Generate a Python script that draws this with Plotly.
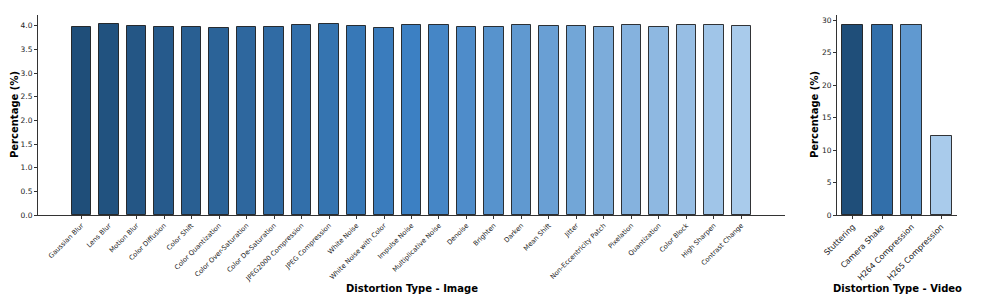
import plotly.graph_objects as go

image_types = ["Gaussian Blur", "Lens Blur", "Motion Blur", "Color Diffusion", "Color Shift",
               "Color Quantization", "Color Over-Saturation", "Color De-Saturation",
               "JPEG2000 Compression", "JPEG Compression", "White Noise", "White Noise with Color",
               "Impulse Noise", "Multiplicative Noise", "Denoise", "Brighten", "Darken",
               "Mean Shift", "Jitter", "Non-Eccentricity Patch", "Pixelation", "Quantization",
               "Color Block", "High Sharpen", "Contrast Change"]
image_values = [3.98, 4.04, 4.00, 3.98, 3.97, 3.95, 3.97, 3.98, 4.02, 4.03, 4.00, 3.95,
                4.01, 4.02, 3.97, 3.98, 4.02, 4.00, 4.00, 3.98, 4.01, 3.97, 4.02, 4.01, 4.00]

video_types = ["Stuttering", "Camera Shake", "H264 Compression", "H265 Compression"]
video_values = [29.3, 29.3, 29.3, 12.1]

stops = [(0.0, (31, 78, 121)), (0.5, (60, 128, 195)), (1.0, (169, 203, 235))]


def grad(n):
    out = []
    for i in range(n):
        t = i / (n - 1)
        for (t0, c0), (t1, c1) in zip(stops[:-1], stops[1:]):
            if t0 <= t <= t1:
                f = (t - t0) / (t1 - t0)
                c = [round(a + (b - a) * f) for a, b in zip(c0, c1)]
                out.append(f"rgb({c[0]},{c[1]},{c[2]})")
                break
    return out


W, H = 997, 299
font = "DejaVu Sans"

fig = go.Figure()
fig.add_trace(go.Bar(x=image_types, y=image_values, width=0.7,
                     marker=dict(color=grad(len(image_types)),
                                 line=dict(color="rgba(20,20,20,0.85)", width=1)),
                     xaxis="x", yaxis="y", showlegend=False))
fig.add_trace(go.Bar(x=video_types, y=video_values, width=0.7,
                     marker=dict(color=grad(len(video_types)),
                                 line=dict(color="rgba(20,20,20,0.85)", width=1)),
                     xaxis="x2", yaxis="y2", showlegend=False))

ydom = [(H - 215) / H, (H - 15) / H]
axis_common = dict(showline=True, linecolor="#333", linewidth=1, ticks="outside",
                   ticklen=3, tickcolor="#333", showgrid=False, zeroline=False, automargin=False)

title_font = dict(size=10, family=font, color="black")

fig.update_layout(
    width=W, height=H,
    margin=dict(l=0, r=0, t=0, b=0),
    paper_bgcolor="white", plot_bgcolor="white",
    font=dict(family=font, color="#222"),
    bargap=0,
    xaxis=dict(domain=[38 / W, 785 / W], anchor="y", range=[-1.585, 25.585],
               tickangle=-45, tickfont=dict(size=6.7, family=font), **axis_common),
    yaxis=dict(domain=ydom, anchor="x", range=[0, 4.23], tickvals=[0, 0.5, 1, 1.5, 2, 2.5, 3, 3.5, 4],
               ticktext=["0.0", "0.5", "1.0", "1.5", "2.0", "2.5", "3.0", "3.5", "4.0"],
               tickfont=dict(size=7.5, family=font), **axis_common),
    xaxis2=dict(domain=[837 / W, 957 / W], anchor="y2", range=[-0.535, 3.535],
                tickangle=-45, tickfont=dict(size=8, family=font), **axis_common),
    yaxis2=dict(domain=ydom, anchor="x2", range=[0, 30.77], tickvals=[0, 5, 10, 15, 20, 25, 30],
                tickfont=dict(size=7.5, family=font), **axis_common),
    annotations=[
        dict(text="<b>Distortion Type - Image</b>", x=412 / W, y=(H - 288) / H, xref="paper", yref="paper",
             xanchor="center", yanchor="middle", showarrow=False, font=title_font),
        dict(text="<b>Distortion Type - Video</b>", x=897 / W, y=(H - 288) / H, xref="paper", yref="paper",
             xanchor="center", yanchor="middle", showarrow=False, font=title_font),
        dict(text="<b>Percentage (%)</b>", x=15 / W, y=(H - 115) / H, xref="paper", yref="paper",
             xanchor="center", yanchor="middle", showarrow=False, textangle=-90, font=title_font),
        dict(text="<b>Percentage (%)</b>", x=815 / W, y=(H - 115) / H, xref="paper", yref="paper",
             xanchor="center", yanchor="middle", showarrow=False, textangle=-90, font=title_font),
    ],
)

fig.write_html("out.html", config={"displayModeBar": False},
               post_script="document.body.style.margin='0';")
